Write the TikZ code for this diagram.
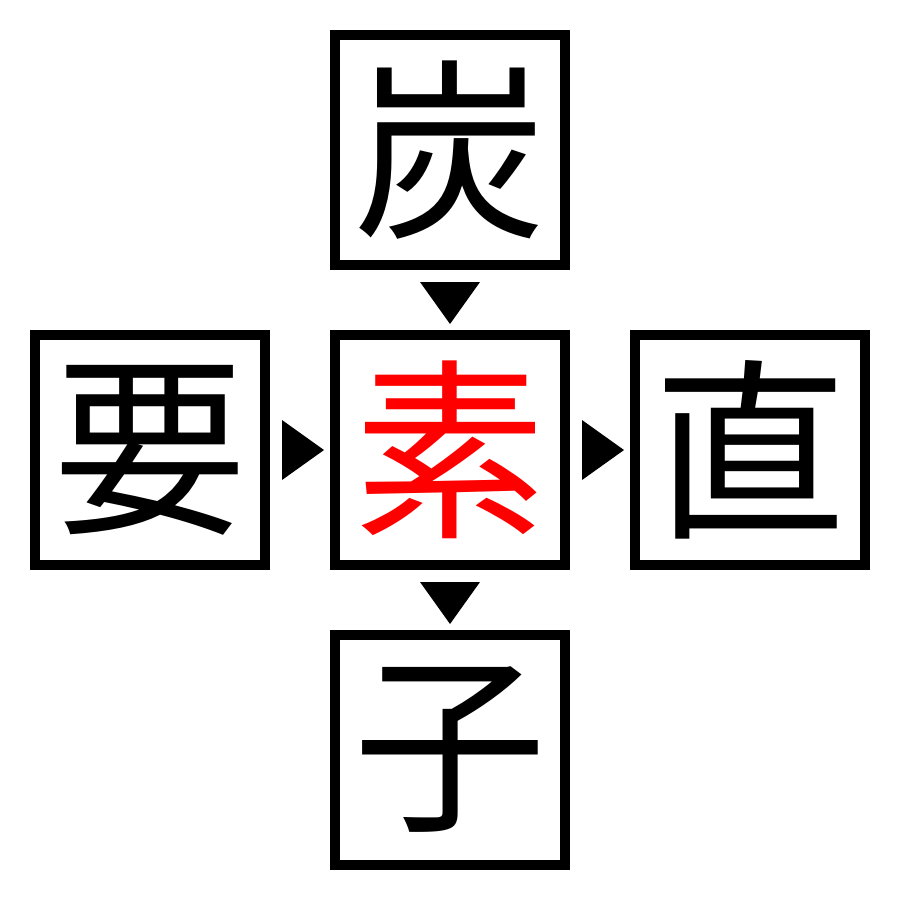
\documentclass[tikz,border=0pt]{standalone}
\usepackage{fontspec}
\newfontfamily\cjk{Noto Sans CJK JP}
\begin{document}
\begin{tikzpicture}[x=0.01cm,y=-0.01cm,
  charbox/.style={draw=black,line width=10*0.2845pt,minimum size=230*0.2845pt,inner sep=0pt,font=\cjk\fontsize{55pt}{55pt}\selectfont},
  tri/.style={fill=black,draw=none}]
\useasboundingbox (0,0) rectangle (900,900);
\node[charbox] (top) at (450,150) {炭};
\node[charbox,text=red] (mid) at (450,450) {素};
\node[charbox] (left) at (150,450) {要};
\node[charbox] (right) at (750,450) {直};
\node[charbox] (bot) at (450,750) {子};
\fill[tri] (420,282) -- (480,282) -- (450,324) -- cycle;
\fill[tri] (420,582) -- (480,582) -- (450,624) -- cycle;
\fill[tri] (282,420) -- (282,480) -- (324,450) -- cycle;
\fill[tri] (582,420) -- (582,480) -- (624,450) -- cycle;
\end{tikzpicture}
\end{document}
